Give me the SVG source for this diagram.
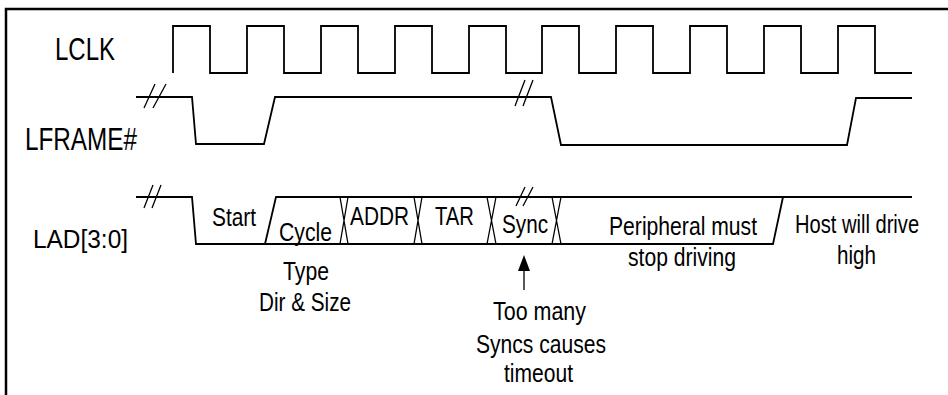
<svg xmlns="http://www.w3.org/2000/svg" width="948" height="395" viewBox="0 0 948 395">
<style>
.w{fill:none;stroke:#000;stroke-width:1.8;stroke-linejoin:miter}
.b{fill:none;stroke:#000;stroke-width:1.3}
.t{font-family:"Liberation Sans",Arial,sans-serif;font-size:25.5px;fill:#000}
.L{font-family:"Liberation Sans",Arial,sans-serif;font-size:31px;fill:#000}
</style>
<rect width="948" height="395" fill="#fff"/>
<path d="M6,395 V9 H948" fill="none" stroke="#000" stroke-width="2.5"/>
<g id="lclk">
<text class="L" x="55" y="60" textLength="60" lengthAdjust="spacingAndGlyphs">LCLK</text>
<path class="w" d="M173,73 V26 H210 V73 H247 V26 H284 V73 H321 V26 H358 V73 H395 V26 H432 V73 H469 V26 H506 V73 H542 V26 H579 V73 H616 V26 H653 V73 H690 V26 H727 V73 H764 V26 H801 V73 H838 V26 H875 V73 H912"/>
</g>
<g id="lframe">
<text class="L" x="25" y="150" textLength="112" lengthAdjust="spacingAndGlyphs">LFRAME#</text>
<path class="w" d="M136,97 H192 L196,144 H264 L275,97 H551 L561,145 H847 L856,98 H912"/>
<path class="b" d="M144,108 L155,84 M153,108 L166,84 M515,106 L525,80 M523,106 L533,80"/>
</g>
<g id="lad">
<text class="L" x="33" y="248" textLength="95" lengthAdjust="spacingAndGlyphs" style="font-size:26px">LAD[3:0]</text>
<path class="w" d="M136,197 H192 L196,244 H773 L783,197"/>
<path class="w" d="M265,244 L276,197 H912"/>
<path class="w" d="M256,244 H265" stroke-width="3"/>
<path class="b" d="M340,197 L348,244 M348,197 L340,244 M414,197 L422,244 M422,197 L414,244 M487,197 L496,244 M496,197 L487,244 M552,197 L561,244 M561,197 L552,244"/>
<path class="b" d="M144,208 L153,185 M152,208 L161,185 M516,206 L525,187 M523,206 L533,187"/>
</g>
<g id="labels">
<text class="t" x="212" y="226" textLength="44" lengthAdjust="spacingAndGlyphs">Start</text>
<text class="t" x="279" y="241" textLength="53" lengthAdjust="spacingAndGlyphs">Cycle</text>
<text class="t" x="283" y="280" textLength="46" lengthAdjust="spacingAndGlyphs">Type</text>
<text class="t" x="259" y="311" textLength="92" lengthAdjust="spacingAndGlyphs">Dir &amp; Size</text>
<text class="t" x="350" y="225" textLength="59" lengthAdjust="spacingAndGlyphs">ADDR</text>
<text class="t" x="435" y="225" textLength="39" lengthAdjust="spacingAndGlyphs">TAR</text>
<text class="t" x="502" y="233" textLength="46" lengthAdjust="spacingAndGlyphs">Sync</text>
<text class="t" x="609" y="235" textLength="148" lengthAdjust="spacingAndGlyphs">Peripheral must</text>
<text class="t" x="628" y="266" textLength="108" lengthAdjust="spacingAndGlyphs">stop driving</text>
<text class="t" transform="translate(857,233) scale(0.79,1)" x="0" y="0" text-anchor="middle">Host will drive</text>
<text class="t" x="837" y="264" textLength="39" lengthAdjust="spacingAndGlyphs">high</text>
</g>
<g id="timeout-note">
<path d="M524,255 L518,271 L530,271 Z" fill="#000"/>
<path class="b" d="M524,270 V290"/>
<text class="t" x="493" y="320" textLength="93" lengthAdjust="spacingAndGlyphs">Too many</text>
<text class="t" x="476" y="353" textLength="130" lengthAdjust="spacingAndGlyphs">Syncs causes</text>
<text class="t" x="504" y="382" textLength="69" lengthAdjust="spacingAndGlyphs">timeout</text>
</g>
</svg>
